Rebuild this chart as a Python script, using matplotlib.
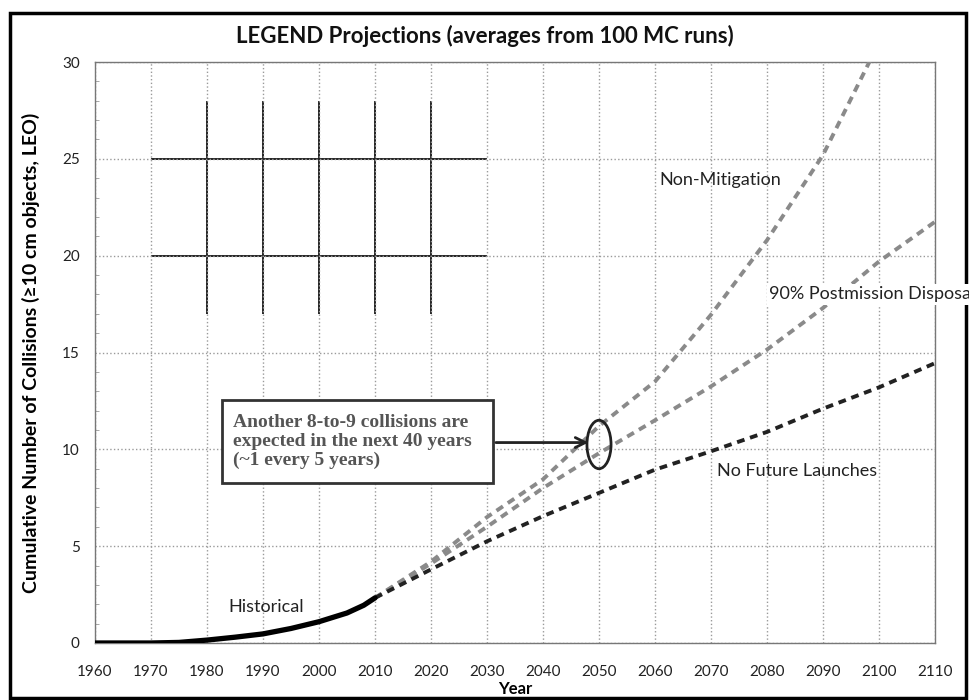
import numpy as np
import matplotlib.pyplot as plt
from matplotlib.patches import Rectangle, Ellipse

# ------------------------------------------------------------
# Data
# ------------------------------------------------------------
hist_years = [1960, 1970, 1975, 1980, 1985, 1990, 1995, 2000, 2005, 2008, 2010]
hist_vals = [0.0, 0.0, 0.03, 0.15, 0.3, 0.47, 0.75, 1.1, 1.55, 1.95, 2.33]

proj_years = [2010, 2020, 2030, 2040, 2050, 2060, 2070, 2080, 2090, 2100, 2110]
no_launch = [2.33, 3.8, 5.25, 6.55, 7.75, 8.95, 9.9, 10.9, 12.1, 13.2, 14.45]
pmd_90 = [2.33, 4.1, 6.0, 8.0, 9.8, 11.5, 13.25, 15.15, 17.3, 19.7, 21.75]
non_mitig = [2.33, 4.2, 6.5, 8.45, 11.2, 13.5, 16.95, 20.8, 25.2, 31.0, 37.0]

x_ticks = list(range(1960, 2111, 10))
y_ticks = [0, 5, 10, 15, 20, 25, 30]

sans = ['Lato', 'DejaVu Sans']
serif = ['Liberation Serif', 'DejaVu Serif']

fig = plt.figure(figsize=(9.69, 7.0), dpi=100)
ax = fig.add_axes([95 / 969, 1 - 643 / 700, 840 / 969, 581 / 700])
ax.set_zorder(2)

ax.set_xlim(1960, 2110)
ax.set_ylim(0, 30)
ax.set_xticks(x_ticks)
ax.set_yticks(y_ticks)
ax.set_yticks(range(0, 31), minor=True)
ax.tick_params(axis='x', length=0, pad=16, labelsize=11)
ax.tick_params(axis='y', which='major', length=0, pad=11, labelsize=11)
ax.tick_params(axis='y', which='minor', direction='in', length=3, color='#999999')
for lab in ax.get_xticklabels() + ax.get_yticklabels():
    lab.set_family(sans)
    lab.set_color('#222222')

ax.grid(True, which='major', color='#9a9a9a', linestyle=':', lw=1.0)
for s in ax.spines.values():
    s.set_color('#777777')
    s.set_linewidth(1.0)

# odd darker grid block in the upper left
ax.hlines([20, 25], 1970, 2030, color='#222222', lw=1.4, zorder=1)
ax.vlines([1980, 1990, 2000, 2010, 2020], 17.0, 28.0, color='#222222', lw=1.4, zorder=1)

# series
ax.plot(hist_years, hist_vals, color='black', lw=3.8, solid_capstyle='round', zorder=4)
ax.plot(proj_years, non_mitig, color='#8a8a8a', lw=2.8, dashes=(2, 1.5), zorder=3)
ax.plot(proj_years, pmd_90, color='#8a8a8a', lw=2.8, dashes=(2, 1.5), zorder=3)
ax.plot(proj_years, no_launch, color='#222222', lw=2.8, dashes=(2, 1.5), zorder=3)

# line labels (the last word of the PMD label runs off the right edge, as in the source)
ax.text(2060.7, 23.9, 'Non-Mitigation', family=sans, fontsize=13, va='center', color='#222222')
ax.text(2080.4, 18.0, '90% Postmission Disposal', family=sans, fontsize=13, va='center',
        color='#222222', clip_on=False, zorder=6,
        bbox=dict(facecolor='white', edgecolor='none', pad=1.5))
ax.text(2071, 8.87, 'No Future Launches', family=sans, fontsize=13, va='center', color='#222222')
ax.text(1983.8, 1.85, 'Historical', family=sans, fontsize=13, va='center', color='#222222')

# annotation box, arrow and ellipse
ax.add_patch(Rectangle((1982.7, 8.26), 48.4, 4.29, facecolor='white',
                       edgecolor='#333333', lw=2, zorder=5))
ax.text(1984.6, 10.4, 'Another 8-to-9 collisions are\nexpected in the next 40 years\n(~1 every 5 years)',
        family=serif, fontweight='bold', fontsize=14, color='#555555',
        va='center', ha='left', linespacing=1.15, zorder=6)
ax.annotate('', xy=(2048.6, 10.35), xytext=(2031.1, 10.35),
            arrowprops=dict(arrowstyle='->', color='#222222', lw=2, mutation_scale=18),
            zorder=6)
ax.add_patch(Ellipse((2050, 10.25), 4.3, 2.5, facecolor='none', edgecolor='#222222', lw=2, zorder=6))

# titles
fig.text(0.5, 1 - 36 / 700, 'LEGEND Projections (averages from 100 MC runs)', family=sans,
         fontweight='bold', fontsize=16, color='#111111', ha='center', va='center')
ax.set_xlabel('Year', family=sans, fontweight='bold', fontsize=12, labelpad=1)
ax.set_ylabel('Cumulative Number of Collisions (\u226510 cm objects, LEO)', family=sans,
              fontweight='bold', fontsize=14, labelpad=16)

# outer frame
fig.add_artist(Rectangle((10 / 969, 2 / 700), 956 / 969, 685 / 700, transform=fig.transFigure,
                         facecolor='none', edgecolor='black', lw=2.5, zorder=1))

fig.savefig('out.png', dpi=100)
